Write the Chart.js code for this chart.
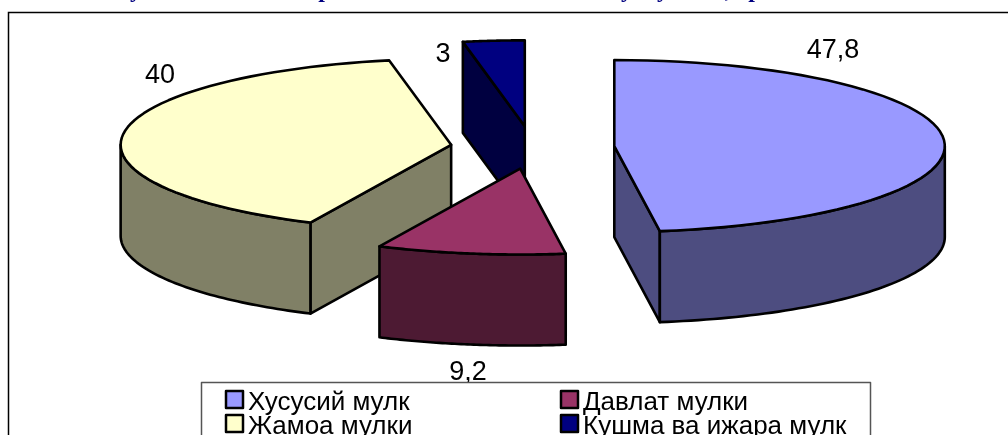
<!DOCTYPE html>
<html lang="uz">
<head>
    <meta charset="UTF-8">
    <title>Мулк шакллари</title>
    <script src="https://cdnjs.cloudflare.com/ajax/libs/Chart.js/4.4.1/chart.umd.min.js"></script>
    <style>
        html, body { margin: 0; background: #fff; overflow: hidden; }
        canvas { display: block; }
    </style>
</head>
<body>
    <canvas id="myChart" width="1008" height="435"></canvas>
    <script>
        const categories = ["Хусусий мулк", "Давлат мулки", "Жамоа мулки", "Кушма ва ижара мулк"];
        const values = [47.8, 9.2, 40, 3];
        const valueLabels = ["47,8", "9,2", "40", "3"];
        const topColors = ["#9999FF", "#993366", "#FFFFCC", "#000080"];
        const sideColors = ["#4D4D80", "#4D1A33", "#808066", "#000040"];

        // look of the tilted pie
        const radius = 330.5, tilt = 0.26, depth = 91, explode = 82;
        const edgeWidth = 2.6;
        const labelSpots = [[833, 58], [468, 380], [160, 83], [443, 62]];
        const legendSpots = [[225, 410], [560, 410], [225, 434], [560, 434]];
        const titleBits = [["у", 136], ["р", 325], ["у", 627], ["у", 663], [",", 728], ["р", 755]];

        function sliceCentre(arc) {
            const mid = (arc.startAngle + arc.endAngle) / 2;
            return {
                x: arc.x + Math.cos(mid) * explode,
                y: arc.y + Math.sin(mid) * explode * tilt
            };
        }

        function rimPoint(c, r, a, drop) {
            return [c.x + Math.cos(a) * r, c.y + Math.sin(a) * r * tilt + drop];
        }

        function traceRim(ctx, c, r, a0, a1, drop) {
            const n = 60;
            for (let i = 0; i <= n; i++) {
                const p = rimPoint(c, r, a0 + (a1 - a0) * i / n, drop);
                ctx.lineTo(p[0], p[1]);
            }
        }

        function drawSide(ctx, arc, color) {
            const c = sliceCentre(arc);
            const r = arc.outerRadius;
            ctx.fillStyle = color;
            ctx.strokeStyle = "#000";
            ctx.lineWidth = edgeWidth;
            ctx.lineJoin = "round";

            // cut faces turned to the viewer
            const cuts = [];
            if (Math.cos(arc.startAngle) < -0.001) cuts.push(arc.startAngle);
            if (Math.cos(arc.endAngle) > 0.001) cuts.push(arc.endAngle);
            cuts.forEach(a => {
                const p = rimPoint(c, r, a, 0);
                ctx.beginPath();
                ctx.moveTo(c.x, c.y);
                ctx.lineTo(p[0], p[1]);
                ctx.lineTo(p[0], p[1] + depth);
                ctx.lineTo(c.x, c.y + depth);
                ctx.closePath();
                ctx.fill();
                ctx.stroke();
            });

            // outer wall, only the front half of the ellipse
            const lo = Math.max(arc.startAngle, 0);
            const hi = Math.min(arc.endAngle, Math.PI);
            if (hi > lo) {
                ctx.beginPath();
                traceRim(ctx, c, r, lo, hi, 0);
                traceRim(ctx, c, r, hi, lo, depth);
                ctx.closePath();
                ctx.fill();
                ctx.stroke();
            }
        }

        function drawTop(ctx, arc) {
            const c = sliceCentre(arc);
            ctx.save();
            ctx.translate(c.x, c.y);
            ctx.scale(1, tilt);
            ctx.translate(-arc.x, -arc.y);
            arc.draw(ctx);
            ctx.restore();

            ctx.strokeStyle = "#000";
            ctx.lineWidth = edgeWidth;
            ctx.lineJoin = "round";
            ctx.beginPath();
            ctx.moveTo(c.x, c.y);
            traceRim(ctx, c, arc.outerRadius, arc.startAngle, arc.endAngle, 0);
            ctx.closePath();
            ctx.stroke();
        }

        const pie3d = {
            id: "pie3d",
            beforeDraw(chart) {
                const ctx = chart.ctx;
                ctx.save();
                ctx.fillStyle = "#000080";
                ctx.font = "bold 24px 'Liberation Serif'";
                ctx.textAlign = "center";
                titleBits.forEach(b => ctx.fillText(b[0], b[1], -3));
                ctx.strokeStyle = "#000";
                ctx.lineWidth = 1.5;
                ctx.strokeRect(8.5, 12.5, 1100, 500);
                ctx.restore();
            },
            beforeDatasetsDraw(chart) {
                const ctx = chart.ctx;
                const arcs = chart.getDatasetMeta(0).data;
                const order = arcs.map((a, i) => i)
                    .sort((p, q) => sliceCentre(arcs[p]).y - sliceCentre(arcs[q]).y);
                order.forEach(i => {
                    drawSide(ctx, arcs[i], sideColors[i]);
                    drawTop(ctx, arcs[i]);
                });
                return false;
            },
            afterDraw(chart) {
                const ctx = chart.ctx;
                ctx.save();
                ctx.font = "27px 'Liberation Sans'";
                ctx.fillStyle = "#000";
                ctx.textAlign = "center";
                ctx.textBaseline = "alphabetic";
                valueLabels.forEach((t, i) => ctx.fillText(t, labelSpots[i][0], labelSpots[i][1]));

                // legend box
                ctx.fillStyle = "#fff";
                ctx.fillRect(201, 382, 670, 60);
                ctx.strokeStyle = "#555";
                ctx.lineWidth = 1.5;
                ctx.strokeRect(201.5, 382.5, 669, 70);

                ctx.font = "26px 'Liberation Sans'";
                ctx.textAlign = "left";
                categories.forEach((name, i) => {
                    const x = legendSpots[i][0], y = legendSpots[i][1];
                    ctx.fillStyle = topColors[i];
                    ctx.fillRect(x + 1, y - 19, 17, 17);
                    ctx.strokeStyle = "#000";
                    ctx.lineWidth = 2.5;
                    ctx.strokeRect(x + 1, y - 19, 17, 17);
                    ctx.fillStyle = "#000";
                    ctx.fillText(name, x + 23, y);
                });
                ctx.restore();
            }
        };

        new Chart("myChart", {
            type: "pie",
            data: {
                labels: categories,
                datasets: [{
                    data: values,
                    backgroundColor: topColors,
                    borderWidth: 0,
                    radius: radius
                }]
            },
            options: {
                responsive: false,
                animation: false,
                events: [],
                layout: { padding: { left: 57, bottom: 140 } },
                plugins: {
                    legend: { display: false },
                    tooltip: { enabled: false }
                }
            },
            plugins: [pie3d]
        });
    </script>
</body>
</html>
